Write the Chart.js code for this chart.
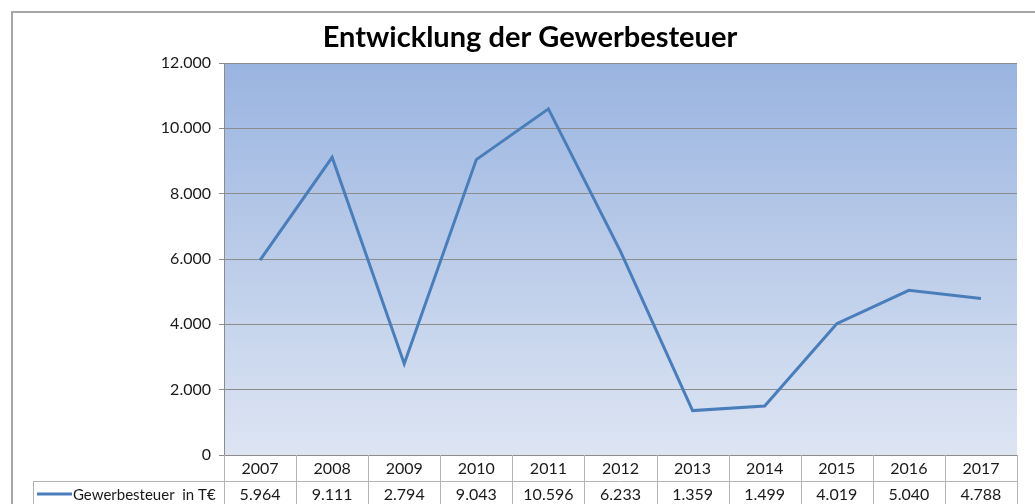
<!DOCTYPE html>
<html>
<head>
<meta charset="utf-8">
<script src="https://cdn.jsdelivr.net/npm/chart.js@4"></script>
<style>
  html, body { margin: 0; padding: 0; background: #fff; }
  #wrap { width: 1035px; height: 504px; position: relative; }
</style>
</head>
<body>
<div id="wrap"><canvas id="taxChart" width="1035" height="504"></canvas></div>
<script>
/* data */
var years = ['2007', '2008', '2009', '2010', '2011', '2012', '2013', '2014', '2015', '2016', '2017'];
var gewerbesteuer = [5964, 9111, 2794, 9043, 10596, 6233, 1359, 1499, 4019, 5040, 4788];
var seriesName = 'Gewerbesteuer  in T€';
var chartTitle = 'Entwicklung der Gewerbesteuer';
var yTicks = [0, 2000, 4000, 6000, 8000, 10000, 12000];

var fontFamily = 'Lato, "Open Sans", sans-serif';
var lineColor = '#4a7ebb';
var frameColor = '#a6a6a6';

// german number format: 10596 -> 10.596
function fmt(v) {
    return String(v).replace(/\B(?=(\d{3})+(?!\d))/g, '.');
}

// white page, outer frame and gradient plot area
var backgroundPlugin = {
    id: 'background',
    beforeDraw: function(chart) {
        var ctx = chart.ctx;
        var a = chart.chartArea;
        ctx.save();
        ctx.fillStyle = '#fff';
        ctx.fillRect(0, 0, chart.width, chart.height);

        var grad = ctx.createLinearGradient(0, a.top, 0, a.bottom);
        grad.addColorStop(0, '#9ab4e0');
        grad.addColorStop(1, '#dde5f3');
        ctx.fillStyle = grad;
        ctx.fillRect(a.left, a.top, a.right - a.left, a.bottom - a.top);

        ctx.strokeStyle = frameColor;
        ctx.lineWidth = 2;
        ctx.beginPath();
        ctx.moveTo(12, chart.height + 5);
        ctx.lineTo(12, 12);
        ctx.lineTo(chart.width + 5, 12);
        ctx.stroke();
        ctx.restore();
    }
};

// title and data table under the plot
var tablePlugin = {
    id: 'dataTable',
    afterDraw: function(chart) {
        var ctx = chart.ctx;
        var a = chart.chartArea;
        var x = chart.scales.x;
        var n = years.length;
        var colW = (a.right - a.left) / n;
        var rowH = 26;
        var top = a.bottom;
        var mid = top + rowH;
        var legendLeft = 33;

        ctx.save();
        // title
        ctx.fillStyle = '#000';
        ctx.font = 'bold 29px ' + fontFamily;
        ctx.textAlign = 'center';
        ctx.textBaseline = 'middle';
        ctx.fillText(chartTitle, 530, 38);

        // grid of the table
        ctx.strokeStyle = '#b4b4b4';
        ctx.lineWidth = 1;
        ctx.beginPath();
        ctx.moveTo(a.left, mid + 0.5);
        ctx.lineTo(a.right, mid + 0.5);
        ctx.moveTo(legendLeft, mid + 0.5);
        ctx.lineTo(a.left, mid + 0.5);
        ctx.moveTo(legendLeft + 0.5, mid);
        ctx.lineTo(legendLeft + 0.5, chart.height);
        for (var i = 0; i <= n; i++) {
            var bx = Math.round(a.left + i * colW) + 0.5;
            ctx.moveTo(bx, top);
            ctx.lineTo(bx, chart.height);
        }
        ctx.stroke();

        // years and values
        ctx.font = '16px ' + fontFamily;
        ctx.fillStyle = '#1a1a1a';
        for (var j = 0; j < n; j++) {
            var cx = x.getPixelForValue(j);
            ctx.fillText(years[j], cx, top + rowH / 2 + 1);
            ctx.fillText(fmt(gewerbesteuer[j]), cx, mid + rowH / 2 + 1);
        }

        // legend entry
        ctx.strokeStyle = lineColor;
        ctx.lineWidth = 3;
        ctx.beginPath();
        ctx.moveTo(37, mid + rowH / 2);
        ctx.lineTo(72, mid + rowH / 2);
        ctx.stroke();
        ctx.textAlign = 'left';
        ctx.font = '15px ' + fontFamily;
        ctx.fillText(seriesName, 73, mid + rowH / 2 + 1);
        ctx.restore();
    }
};

var ctx = document.getElementById('taxChart').getContext('2d');
var taxChart = new Chart(ctx, {
    type: 'line',
    data: {
        labels: years,
        datasets: [{
            label: seriesName,
            data: gewerbesteuer,
            borderColor: lineColor,
            borderWidth: 3,
            pointRadius: 0,
            tension: 0,
            fill: false
        }]
    },
    options: {
        responsive: false,
        animation: false,
        layout: {
            padding: { top: 63, bottom: 49, right: 18, left: 0 }
        },
        plugins: {
            legend: { display: false },
            title: { display: false },
            tooltip: { enabled: false }
        },
        scales: {
            x: {
                display: false,
                offset: true
            },
            y: {
                min: 0,
                max: 12000,
                afterFit: function(scale) { scale.width = 224; },
                afterBuildTicks: function(scale) {
                    scale.ticks = yTicks.map(function(v) { return { value: v }; });
                },
                ticks: {
                    padding: 8,
                    color: '#1a1a1a',
                    font: { family: fontFamily, size: 16 },
                    callback: function(v) { return fmt(v); }
                },
                grid: {
                    color: '#8c8c8c',
                    tickLength: 5,
                    tickColor: '#8c8c8c'
                },
                border: { color: '#8c8c8c' }
            }
        }
    },
    plugins: [backgroundPlugin, tablePlugin]
});
</script>
</body>
</html>
